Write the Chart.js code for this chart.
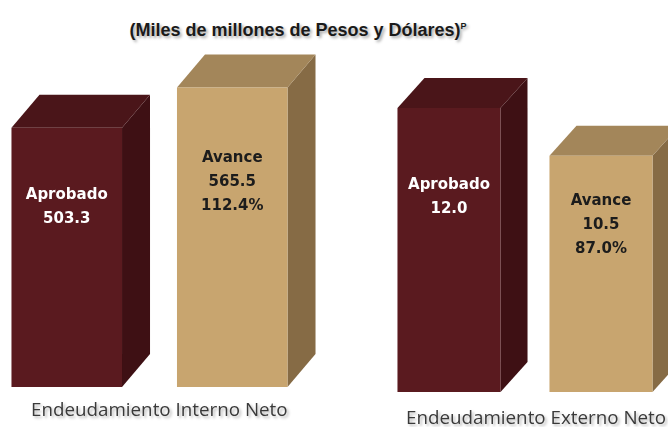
<!DOCTYPE html>
<html>
<head>
<meta charset="utf-8">
<script src="https://cdn.jsdelivr.net/npm/chart.js@4"></script>
<style>
  body {
    margin: 0;
    width: 668px;
    height: 427px;
    overflow: hidden;
    background: #fff;
    position: relative;
  }
  canvas {
    position: absolute;
    top: 0;
  }
  #left-chart {
    left: -20px;
  }
  #right-chart {
    left: 340px;
  }
  .title {
    position: absolute;
    left: 0;
    width: 596px;
    top: 20px;
    text-align: center;
    font: bold 18px "Liberation Sans", sans-serif;
    color: #1a1a1a;
    text-shadow: 2px 2px 3px rgba(0, 0, 0, 0.35);
  }
  .title sup {
    font-size: 9px;
  }
  .group-label {
    position: absolute;
    font: 18.8px "Open Sans", sans-serif;
    color: #3a3a3a;
    text-shadow: 2px 2px 3px rgba(0, 0, 0, 0.3);
    white-space: nowrap;
  }
</style>
</head>
<body>
<div class="title">(Miles de millones de Pesos y Dólares)<sup>P</sup></div>
<canvas id="left-chart" width="360" height="427"></canvas>
<canvas id="right-chart" width="368" height="427"></canvas>
<div class="group-label" id="label-interno" style="left: 31px; top: 396px;"></div>
<div class="group-label" id="label-externo" style="left: 406px; top: 404px;"></div>

<script>
// DATA
const seriesNames = ["Aprobado", "Avance"];
const groupNames = ["Endeudamiento Interno Neto", "Endeudamiento Externo Neto"];
const internoValues = [503.3, 565.5];
const internoPercent = ["", "112.4%"];
const externoValues = [12.0, 10.5];
const externoPercent = ["", "87.0%"];

// COLORS
const frontColors = ["#5a1a1f", "#c8a56f"];
const sideColors = ["#3e1014", "#866b45"];
const topColors = ["#4a1519", "#a3865a"];
const textColors = ["#ffffff", "#1c1c1c"];

document.getElementById("label-interno").textContent = groupNames[0];
document.getElementById("label-externo").textContent = groupNames[1];

// 3D faces + labels inside the bars
const bar3d = {
  id: "bar3d",
  beforeDatasetsDraw(chart, args, opts) {
    const ctx = chart.ctx;
    chart.getDatasetMeta(0).data.forEach((bar, i) => {
      const half = bar.width / 2;
      const left = bar.x - half;
      const right = bar.x + half;
      // y axis does not start at 0, so the base sits at the chart bottom
      const base = Math.min(bar.base, chart.chartArea.bottom);
      ctx.save();
      // side face
      ctx.fillStyle = sideColors[i];
      ctx.beginPath();
      ctx.moveTo(right, bar.y);
      ctx.lineTo(right + opts.dx, bar.y - opts.dy);
      ctx.lineTo(right + opts.dx, base - opts.dy);
      ctx.lineTo(right, base);
      ctx.closePath();
      ctx.fill();
      // top face
      ctx.fillStyle = topColors[i];
      ctx.beginPath();
      ctx.moveTo(left, bar.y);
      ctx.lineTo(left + opts.dx, bar.y - opts.dy);
      ctx.lineTo(right + opts.dx, bar.y - opts.dy);
      ctx.lineTo(right, bar.y);
      ctx.closePath();
      ctx.fill();
      ctx.restore();
    });
  },
  afterDatasetsDraw(chart, args, opts) {
    const ctx = chart.ctx;
    const dataset = chart.data.datasets[0];
    chart.getDatasetMeta(0).data.forEach((bar, i) => {
      const lines = [seriesNames[i], dataset.data[i].toFixed(1)];
      if (dataset.percent[i]) lines.push(dataset.percent[i]);
      ctx.save();
      ctx.font = 'bold 15px "DejaVu Sans", sans-serif';
      ctx.fillStyle = textColors[i];
      ctx.textAlign = "center";
      ctx.textBaseline = "middle";
      lines.forEach((line, j) => {
        ctx.fillText(line, bar.x, bar.y + opts.labelOffset[i] + j * 24);
      });
      ctx.restore();
    });
  },
};

function makeChart(canvasId, values, percent, yMin, yMax, padding, depth) {
  return new Chart(document.getElementById(canvasId), {
    type: "bar",
    data: {
      labels: seriesNames,
      datasets: [
        {
          data: values,
          percent: percent,
          backgroundColor: frontColors,
          borderWidth: 0,
          categoryPercentage: 1,
          barPercentage: depth.bar,
        },
      ],
    },
    options: {
      responsive: false,
      animation: false,
      layout: { padding: padding },
      scales: {
        x: { display: false },
        y: { display: false, min: yMin, max: yMax },
      },
      plugins: {
        legend: { display: false },
        tooltip: { enabled: false },
        bar3d: { dx: depth.dx, dy: depth.dy, labelOffset: depth.labelOffset },
      },
    },
    plugins: [bar3d],
  });
}

makeChart(
  "left-chart",
  internoValues,
  internoPercent,
  100,
  624,
  { left: 4, right: 25, top: 50, bottom: 40 },
  { bar: 0.668, dx: 28, dy: 33, labelOffset: [67, 70] }
);

makeChart(
  "right-chart",
  externoValues,
  externoPercent,
  3.1,
  13.5,
  { left: 33, right: 31, top: 60, bottom: 35 },
  { bar: 0.678, dx: 27, dy: 30, labelOffset: [77, 45] }
);
</script>
</body>
</html>
